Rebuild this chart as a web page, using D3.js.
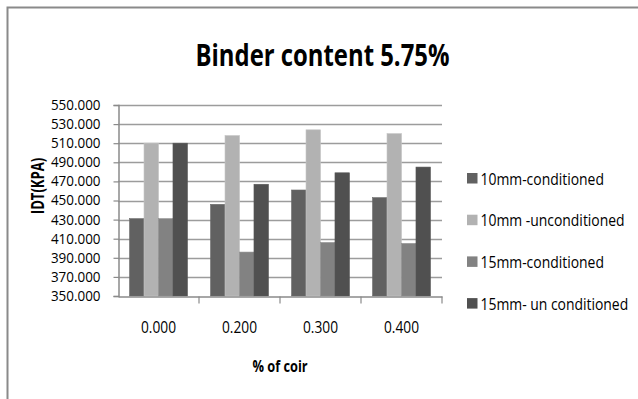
<!DOCTYPE html>
<html>
<head>
<meta charset="utf-8">
<script src="https://cdn.jsdelivr.net/npm/d3@7"></script>
<style>
  html, body { margin: 0; padding: 0; background: #fff; }
  svg text { font-family: "Open Sans", "Liberation Sans", sans-serif; fill: #000; }
</style>
</head>
<body>
<svg id="chart" width="638" height="399"></svg>
<script>
// Coir content categories (x axis)
const categories = ["0.000", "0.200", "0.300", "0.400"];

// Series names and IDT values (kPa) for each category
const seriesNames = ["10mm-conditioned", "10mm -unconditioned", "15mm-conditioned", "15mm- un conditioned"];
const s10Cond   = [431, 446, 461, 453];
const s10Uncond = [510, 518, 524, 520];
const s15Cond   = [431, 396, 406, 405];
const s15Uncond = [510, 467, 479, 485];
const seriesValues = [s10Cond, s10Uncond, s15Cond, s15Uncond];
const seriesColors = ["#616161", "#b2b2b2", "#828282", "#505050"];

// Y axis ticks
const yTicks = [350, 370, 390, 410, 430, 450, 470, 490, 510, 530, 550];

// Narrow the text horizontally around its anchor point
function condense(sel, f) {
  sel.each(function () {
    const t = d3.select(this);
    const ax = +t.attr("x") || 0, ay = +t.attr("y") || 0;
    const prev = t.attr("transform") || "";
    t.attr("transform", `${prev} translate(${ax},${ay}) scale(${f},1) translate(${-ax},${-ay})`);
  });
}

const svg = d3.select("#chart");

// outer frame (top and left edges)
svg.append("path")
  .attr("d", "M7.5,399 V7.5 H638")
  .attr("fill", "none").attr("stroke", "#8a8a8a").attr("stroke-width", 2);

const plot = { left: 118, right: 442, top: 105, bottom: 296 };

const x0 = d3.scaleBand().domain(categories).range([plot.left, plot.right]).paddingInner(0.285).paddingOuter(0.1425);
const x1 = d3.scaleBand().domain(d3.range(seriesNames.length)).range([0, x0.bandwidth()]);
const y = d3.scaleLinear().domain([350, 550]).range([plot.bottom, plot.top]);

// horizontal gridlines
svg.append("g").selectAll("line").data(yTicks.slice(1)).join("line")
  .attr("x1", plot.left).attr("x2", plot.right)
  .attr("y1", d => Math.round(y(d)) + 0.5).attr("y2", d => Math.round(y(d)) + 0.5)
  .attr("stroke", "#9c9c9c").attr("stroke-width", 1.6);

// bars
const groups = svg.append("g").selectAll("g").data(categories).join("g")
  .attr("transform", c => `translate(${x0(c)},0)`);
groups.selectAll("rect").data((c, ci) => seriesValues.map((vals, si) => ({ si, v: vals[ci] }))).join("rect")
  .attr("x", d => x1(d.si))
  .attr("width", x1.bandwidth())
  .attr("y", d => y(d.v))
  .attr("height", d => y(350) - y(d.v))
  .attr("fill", d => seriesColors[d.si])
  .attr("stroke", d => d3.color(seriesColors[d.si]).brighter(0.25))
  .attr("stroke-width", 0.6);

// y axis
const yAxis = d3.axisLeft(y).tickValues(yTicks).tickFormat(d3.format(".3f")).tickSize(5).tickPadding(13);
const yg = svg.append("g").attr("transform", `translate(${plot.left + 0.5},0)`).call(yAxis);
yg.select(".domain").attr("stroke", "#8a8a8a").attr("stroke-width", 1.5);
yg.selectAll(".tick line").attr("stroke", "#8a8a8a").attr("stroke-width", 1.2);
yg.selectAll(".tick text").attr("font-size", 14).attr("font-family", null).style("fill", "#000")
  .call(condense, 0.96);

// x axis
const xAxis = d3.axisBottom(x0).tickSize(0).tickPadding(0).tickFormat(d => d);
const xg = svg.append("g").attr("transform", `translate(0,${plot.bottom + 0.5})`).call(xAxis);
xg.select(".domain").attr("stroke", "#8a8a8a").attr("stroke-width", 1.5);
xg.selectAll(".tick text").attr("font-size", 16).attr("font-family", null).attr("dy", 0).attr("y", 36.5).style("fill", "#000")
  .call(condense, 0.86);
// category dividers
const edges = categories.slice(1).map(c => x0(c) - x0.step() * x0.paddingInner() / 2).concat([plot.right]);
xg.selectAll(".sep").data(edges).join("line")
  .attr("x1", d => d).attr("x2", d => d)
  .attr("y1", 0).attr("y2", 7)
  .attr("stroke", "#8a8a8a").attr("stroke-width", 1.2);

// title
svg.append("text").attr("x", 322.5).attr("y", 66).attr("text-anchor", "middle")
  .attr("font-size", 31).attr("font-weight", "bold").text("Binder content 5.75%")
  .call(condense, 0.77);

// axis titles
svg.append("text").attr("x", 0).attr("y", 0).attr("transform", "translate(44,186) rotate(-90)").attr("text-anchor", "middle")
  .attr("font-size", 17).attr("font-weight", "bold")
  .text("IDT(KPA)")
  .call(condense, 0.77);
svg.append("text").attr("x", 280).attr("y", 372).attr("text-anchor", "middle")
  .attr("font-size", 16).attr("font-weight", "bold").text("% of coir")
  .call(condense, 0.8);

// legend
const legend = svg.append("g").selectAll("g").data(seriesNames).join("g")
  .attr("transform", (d, i) => `translate(467,${178.5 + i * 41.7})`);
legend.append("rect").attr("x", 0).attr("y", -5.5).attr("width", 10.5).attr("height", 10.5)
  .attr("fill", (d, i) => seriesColors[i]);
legend.append("text").attr("x", 13.5).attr("y", 6).attr("font-size", 16).text(d => d)
  .call(condense, 0.87);
</script>
</body>
</html>
